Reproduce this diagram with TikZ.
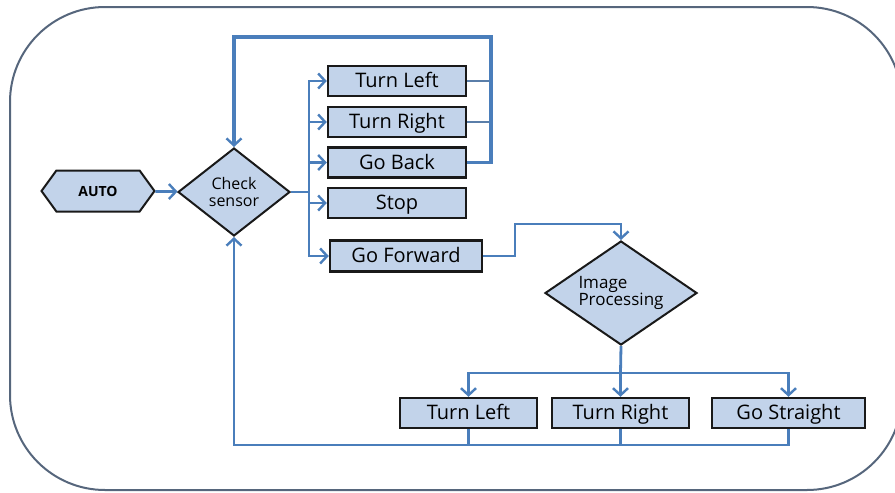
\documentclass[tikz,border=0pt]{standalone}
\usepackage{fontspec}
\setmainfont{Open Sans}
\usetikzlibrary{arrows.meta,shapes.geometric,shapes.symbols}
\definecolor{flow}{HTML}{4A7EBB}
\definecolor{boxfill}{HTML}{C2D3EA}
\definecolor{framec}{HTML}{56667C}
\tikzset{
  act/.style={draw=black!90, line width=2.4pt, fill=boxfill, minimum height=30pt,
    inner sep=0pt, text height=15.5pt, text depth=2.5pt, font=\fontsize{20}{22}\selectfont},
  decide/.style={diamond, draw=black!90, line width=2pt, fill=boxfill,
    inner sep=0pt, font=\fontsize{16}{17}\selectfont},
  flowline/.style={draw=flow, line width=2.8pt},
  heavy/.style={draw=flow, line width=3.4pt},
  hair/.style={draw=flow!70!gray, line width=1.1pt},
  tip/.style={-{Straight Barb[length=7pt,width=15pt,line width=2.4pt]}}
}
\begin{document}
\begin{tikzpicture}[x=1pt,y=-1pt]
\useasboundingbox (0,0) rectangle (895,493);

% outer frame
\draw[framec, line width=2pt, rounded corners=95pt] (10,7) rectangle (902,490);

% nodes
\node[signal, signal to=west and east, signal pointer angle=108, draw=black!90,
      line width=2pt, fill=boxfill, minimum width=113pt, minimum height=41pt,
      inner sep=0pt, font=\fontsize{14}{14}\selectfont\bfseries] (auto) at (98,191) {AUTO};
\node[decide, minimum width=112pt, minimum height=88pt, align=center] (check) at (234,192) {Check\\sensor};

\node[act, minimum width=138pt] (tl1) at (397,81) {Turn Left};
\node[act, minimum width=138pt] (tr1) at (397,122) {Turn Right};
\node[act, minimum width=138pt] (gb)  at (397,162.5) {Go Back};
\node[act, minimum width=138pt] (st)  at (397,203) {Stop};
\node[act, minimum width=152pt, minimum height=31pt] (gf) at (406,256) {Go Forward};

\node[decide, minimum width=152pt, minimum height=104pt, aspect=1.46, align=left,
      font=\fontsize{17}{16}\selectfont] (img) at (621,293) {Image\\Processing};

\node[act, minimum width=137pt] (tl2) at (468.5,413) {Turn Left};
\node[act, minimum width=137pt] (tr2) at (620.5,413) {Turn Right};
\node[act, minimum width=153pt] (gs)  at (788.5,413) {Go Straight};

% junction points
\coordinate (loopR) at (491,37);
\coordinate (split) at (309,192);
\coordinate (jog) at (515,224);
\coordinate (fan) at (620.5,373);
\coordinate (retL) at (234,445);

% start
\draw[flowline, tip] (auto) -- (check);

% sensor branches
\draw[flowline] (check.east) -- (split);
\draw[flowline, tip] (split) |- (tl1.west);
\draw[flowline, tip] (split) |- (tr1.west);
\draw[flowline, tip] (split) |- (gb.west);
\draw[flowline, tip] (split) |- (st.west);
\draw[flowline, tip] (split) |- (gf.west);

% return loop over the top
\draw[hair] (tl1.east) -- (tl1.east -| loopR);
\draw[hair] (tr1.east) -- (tr1.east -| loopR);
\draw[heavy, tip] (gb.east) -| (loopR) -| (check.north);

% forward to image processing
\draw[flowline, tip] (gf.east) -| (jog) -| (img.north);

% image processing outcomes
\draw[flowline] (img.south) -- (fan);
\draw[flowline, tip] (fan) -| (tl2.north);
\draw[flowline, tip] (fan) -- (tr2.north);
\draw[flowline, tip] (fan) -| (gs.north);

% return loop along the bottom
\draw[flowline] (tl2.south) -- (tl2.south |- retL);
\draw[flowline] (tr2.south) -- (tr2.south |- retL);
\draw[flowline, tip] (gs.south) |- (retL) -- (check.south);
\end{tikzpicture}
\end{document}
